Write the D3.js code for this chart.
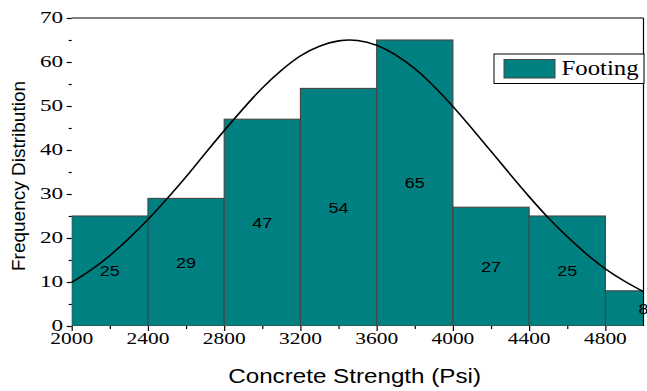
<!DOCTYPE html>
<html>
<head>
<meta charset="utf-8">
<script src="https://cdn.jsdelivr.net/npm/d3@7"></script>
<style>
  html, body { margin: 0; padding: 0; background: #fff; }
  svg { display: block; }
</style>
</head>
<body>
<svg id="chart" width="647" height="391"></svg>
<script>
// Histogram bins (lower edge, upper edge) and their counts
const binStarts = [2000, 2400, 2800, 3200, 3600, 4000, 4400, 4800];
const binEnds   = [2400, 2800, 3200, 3600, 4000, 4400, 4800, 5200];
const counts    = [25, 29, 47, 54, 65, 27, 25, 8];

// Fitted distribution curve, sampled every 100 psi
const curveX = [2000, 2100, 2200, 2300, 2400, 2500, 2600, 2700, 2800, 2900,
                3000, 3100, 3200, 3300, 3400, 3500, 3600, 3700, 3800, 3900,
                4000, 4100, 4200, 4300, 4400, 4500, 4600, 4700, 4800, 4900, 5000];
const curveY = [9.9, 12.7, 16.0, 19.9, 24.2, 28.9, 33.9, 39.2, 44.4, 49.4,
                54.1, 58.1, 61.4, 63.6, 64.8, 64.9, 63.8, 61.6, 58.5, 54.5,
                49.9, 44.9, 39.7, 34.5, 29.4, 24.6, 20.3, 16.4, 13.0, 10.2, 7.8];

// Axis ticks
const xTicks = [2000, 2400, 2800, 3200, 3600, 4000, 4400, 4800];
const xMinorTicks = [2200, 2600, 3000, 3400, 3800, 4200, 4600];
const yTicks = [0, 10, 20, 30, 40, 50, 60, 70];
const yMinorTicks = [5, 15, 25, 35, 45, 55, 65];

const seriesName = "Footing";
const xTitle = "Concrete Strength (Psi)";
const yTitle = "Frequency Distribution";

const W = 647, H = 391;
const margin = { left: 71.7, right: 3.5, top: 18, bottom: 65 };
const pw = W - margin.left - margin.right;
const ph = H - margin.top - margin.bottom;

const svg = d3.select("#chart");
const g = svg.append("g").attr("transform", `translate(${margin.left},${margin.top})`);

const x = d3.scaleLinear().domain([2000, 5000]).range([0, pw]);
const y = d3.scaleLinear().domain([0, 70]).range([ph, 0]);

const serif = "'Liberation Serif', 'Times New Roman', serif";
const sans = "'Liberation Sans', Arial, sans-serif";

// text helper: horizontally widened glyphs
function label(parent, tx, ty, str, opts) {
  const grp = parent.append("g").attr("transform", `translate(${tx},${ty}) scale(${opts.sx || 1},1)`);
  return grp.append("text")
    .attr("x", 0).attr("y", 0)
    .attr("text-anchor", opts.anchor || "middle")
    .attr("font-family", opts.family)
    .attr("font-size", opts.size)
    .attr("fill", "#000")
    .text(str);
}

svg.append("defs").append("clipPath").attr("id", "plotClip")
  .append("rect").attr("x", 0).attr("y", -2).attr("width", pw).attr("height", ph + 2);

const bins = binStarts.map((s, i) => ({ x0: s, x1: binEnds[i], n: counts[i] }));

// bars
g.append("g").attr("clip-path", "url(#plotClip)")
  .selectAll("rect").data(bins).join("rect")
  .attr("x", d => x(d.x0))
  .attr("y", d => y(d.n))
  .attr("width", d => x(d.x1) - x(d.x0))
  .attr("height", d => y(0) - y(d.n))
  .attr("fill", "#008080")
  .attr("stroke", "#454545")
  .attr("stroke-width", 1.1);

// count labels at the middle of each bar
bins.forEach(d => {
  const cx = (x(d.x0) + x(d.x1)) / 2;
  const cy = (y(d.n) + y(0)) / 2 + 5.4;
  label(g, cx, cy, String(d.n), { family: sans, size: 15, sx: 1.2 });
});

// fitted curve
const line = d3.line().x((d, i) => x(curveX[i])).y(d => y(d)).curve(d3.curveNatural);
g.append("path")
  .attr("d", line(curveY))
  .attr("fill", "none")
  .attr("stroke", "#000")
  .attr("stroke-width", 1.6);

// frame (top and right)
g.append("line").attr("x1", 0).attr("x2", pw).attr("y1", 0).attr("y2", 0)
  .attr("stroke", "#000").attr("stroke-width", 1.2);
g.append("line").attr("x1", pw).attr("x2", pw).attr("y1", 0).attr("y2", ph)
  .attr("stroke", "#000").attr("stroke-width", 1.2);

// x axis
const xAxisG = g.append("g").attr("transform", `translate(0,${ph})`)
  .call(d3.axisBottom(x).tickValues(xTicks).tickSize(5).tickFormat(""));
xAxisG.append("g").call(d3.axisBottom(x).tickValues(xMinorTicks).tickSize(3).tickFormat(""));
xAxisG.selectAll(".domain").attr("stroke", "#000").attr("stroke-width", 1.6);
xAxisG.selectAll(".tick line").attr("stroke", "#000").attr("stroke-width", 1.2);
xAxisG.selectAll("g > g > .domain").remove();
xTicks.forEach(t => label(g, x(t), ph + 18, String(t), { family: serif, size: 16.5, sx: 1.3 }));

// y axis
const yAxisG = g.append("g")
  .call(d3.axisLeft(y).tickValues(yTicks).tickSize(5).tickFormat(""));
yAxisG.append("g").call(d3.axisLeft(y).tickValues(yMinorTicks).tickSize(3).tickFormat(""));
yAxisG.selectAll(".domain").attr("stroke", "#000").attr("stroke-width", 1.6);
yAxisG.selectAll(".tick line").attr("stroke", "#000").attr("stroke-width", 1.2);
yAxisG.selectAll("g > g > .domain").remove();
yTicks.forEach(t => label(g, -8.5, y(t) + 4.7, String(t), { family: serif, size: 16, sx: 1.45, anchor: "end" }));

// axis titles
label(svg, margin.left + pw / 2 - 3, 383, xTitle, { family: sans, size: 20, sx: 1.21 });
svg.append("text")
  .attr("transform", `translate(25,176) rotate(-90)`)
  .attr("text-anchor", "middle")
  .attr("font-family", sans)
  .attr("font-size", 19)
  .attr("fill", "#000")
  .text(yTitle);

// legend
const lg = svg.append("g");
lg.append("rect").attr("x", 494).attr("y", 54).attr("width", 150).attr("height", 29.5)
  .attr("fill", "#fff").attr("stroke", "#000").attr("stroke-width", 1);
lg.append("rect").attr("x", 504).attr("y", 59.5).attr("width", 51).attr("height", 18.5)
  .attr("fill", "#008080").attr("stroke", "#454545").attr("stroke-width", 1);
label(lg, 561.5, 75, seriesName, { family: serif, size: 20, sx: 1.24, anchor: "start" });
</script>
</body>
</html>
